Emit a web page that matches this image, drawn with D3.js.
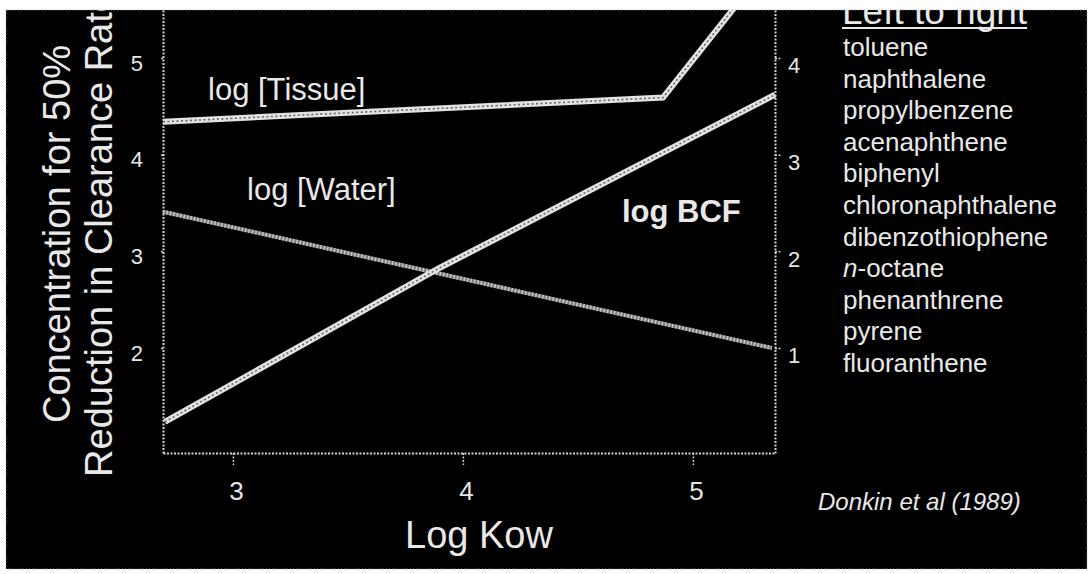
<!DOCTYPE html>
<html>
<head>
<meta charset="utf-8">
<script src="https://cdn.jsdelivr.net/npm/d3@7"></script>
<style>
  html, body { margin: 0; padding: 0; background: #fff; }
  svg { display: block; font-family: "Liberation Sans", Arial, Helvetica, sans-serif; }
  .tick text { fill: #e6e6e6; }
</style>
</head>
<body>
<svg id="chart" width="1089" height="574"></svg>
<script>
// Data (Donkin et al 1989)
const tissueKow  = [2.696, 4.87, 5.357];
const tissueConc = [4.34, 4.59, 6.05];
const waterKow   = [2.696, 5.343];
const waterConc  = [3.41, 2.0];
const bcfKow     = [2.704, 3.9, 5.357];
const bcfLog     = [0.235, 1.83, 3.62];

const xTicks      = [3, 4, 5];
const yLeftTicks  = [2, 3, 4, 5];
const yRightTicks = [1, 2, 3, 4];

const compounds = ["toluene", "naphthalene", "propylbenzene", "acenaphthene", "biphenyl",
  "chloronaphthalene", "dibenzothiophene", "n-octane", "phenanthrene", "pyrene", "fluoranthene"];

const W = 1089, H = 574;
const slide = { x0: 6, y0: 10, x1: 1087, y1: 569 };
const plot = { left: 163, right: 775, top: 10, bottom: 453 };
const TXT = "#e8e8e8";

const svg = d3.select("#chart");

svg.append("defs").append("clipPath").attr("id", "slideClip")
  .append("rect")
  .attr("x", slide.x0).attr("y", slide.y0)
  .attr("width", slide.x1 - slide.x0).attr("height", slide.y1 - slide.y0);

svg.append("rect")
  .attr("x", slide.x0).attr("y", slide.y0)
  .attr("width", slide.x1 - slide.x0).attr("height", slide.y1 - slide.y0)
  .attr("fill", "#000")
  .attr("stroke", "#9a9a9a").attr("stroke-width", 1)
  .attr("stroke-dasharray", "1,2");

const g = svg.append("g").attr("clip-path", "url(#slideClip)");

// Scales
const x = d3.scaleLinear().domain([2.696, 5.357]).range([plot.left, plot.right]);
const yL = d3.scaleLinear().domain([0.914, 5.496]).range([plot.bottom, plot.top]);
const yR = d3.scaleLinear().domain([-0.086, 4.496]).range([plot.bottom, plot.top]);

// Axes
function styleAxis(sel) {
  sel.select(".domain")
    .attr("stroke", "#d4d4d4").attr("stroke-width", 2)
    .attr("stroke-dasharray", "2,1.5");
  sel.selectAll(".tick line").attr("stroke", "#d4d4d4").attr("stroke-width", 1.5)
    .attr("stroke-dasharray", "2,1.5");
}

const xAxis = g.append("g")
  .attr("transform", `translate(0,${plot.bottom})`)
  .call(d3.axisBottom(x).tickValues(xTicks).tickFormat(d3.format("d"))
    .tickSize(12).tickSizeOuter(0).tickPadding(17));
xAxis.selectAll(".tick text").attr("font-size", 26).attr("dx", 3);
styleAxis(xAxis);

const yLeftAxis = g.append("g")
  .attr("transform", `translate(${plot.left},0)`)
  .call(d3.axisLeft(yL).tickValues(yLeftTicks).tickFormat(d3.format("d"))
    .tickSize(3).tickSizeOuter(0).tickPadding(17));
yLeftAxis.selectAll(".tick text").attr("font-size", 22).attr("dy", "0.55em");
styleAxis(yLeftAxis);

const yRightAxis = g.append("g")
  .attr("transform", `translate(${plot.right},0)`)
  .call(d3.axisRight(yR).tickValues(yRightTicks).tickFormat(d3.format("d"))
    .tickSize(6).tickSizeOuter(0).tickPadding(7));
yRightAxis.selectAll(".tick text").attr("font-size", 22).attr("dy", "0.68em");
styleAxis(yRightAxis);

// Lines
const lineL = d3.line().x(d => x(d[0])).y(d => yL(d[1]));
const lineR = d3.line().x(d => x(d[0])).y(d => yR(d[1]));

const tissue = d3.zip(tissueKow, tissueConc);
const water  = d3.zip(waterKow, waterConc);
const bcf    = d3.zip(bcfKow, bcfLog);

// water: thinner hatched grey
g.append("path").datum(water).attr("d", lineL)
  .attr("fill", "none").attr("stroke", "#7d7d7d").attr("stroke-width", 4);
g.append("path").datum(water).attr("d", lineL)
  .attr("fill", "none").attr("stroke", "#c8c8c8").attr("stroke-width", 4)
  .attr("stroke-dasharray", "1.5,2");

// tissue + BCF: thick beaded white
[[tissue, lineL], [bcf, lineR]].forEach(([data, gen]) => {
  g.append("path").datum(data).attr("d", gen)
    .attr("fill", "none").attr("stroke", "#e2e2e2").attr("stroke-width", 6)
    .attr("stroke-linejoin", "miter");
  g.append("path").datum(data).attr("d", gen)
    .attr("fill", "none").attr("stroke", "#6a6a6a").attr("stroke-width", 1.6)
    .attr("stroke-dasharray", "2,2.5");
});

// Line labels
g.append("text").attr("x", 208).attr("y", 100).attr("font-size", 31)
  .attr("fill", TXT).text("log [Tissue]");
g.append("text").attr("x", 247).attr("y", 200).attr("font-size", 31)
  .attr("fill", TXT).text("log [Water]");
g.append("text").attr("x", 622).attr("y", 222).attr("font-size", 31)
  .attr("font-weight", "bold").attr("fill", TXT).text("log BCF");

// Axis titles
g.append("text").attr("x", (plot.left + plot.right) / 2 + 10).attr("y", 548)
  .attr("text-anchor", "middle").attr("font-size", 38).attr("fill", TXT)
  .text("Log Kow");

g.append("text").attr("transform", "translate(70,234) rotate(-90)")
  .attr("text-anchor", "middle").attr("font-size", 38).attr("fill", TXT)
  .text("Concentration for 50%");
g.append("text").attr("transform", "translate(112,234) rotate(-90)")
  .attr("text-anchor", "middle").attr("font-size", 38).attr("fill", TXT)
  .text("Reduction in Clearance Rate");

// Compound list
const head = g.append("text").attr("x", 842).attr("y", 24).attr("font-size", 37)
  .attr("fill", TXT).text("Left to right");
const headLen = head.node().getComputedTextLength();
g.append("line").attr("x1", 842).attr("x2", 842 + headLen)
  .attr("y1", 28).attr("y2", 28).attr("stroke", TXT).attr("stroke-width", 2);

const items = g.append("g").selectAll("text").data(compounds).join("text")
  .attr("x", 843).attr("y", (d, i) => 56 + i * 31.6)
  .attr("font-size", 26).attr("fill", TXT);
items.each(function(d) {
  const t = d3.select(this);
  if (d.startsWith("n-")) {
    t.append("tspan").attr("font-style", "italic").text("n");
    t.append("tspan").text(d.slice(1));
  } else {
    t.text(d);
  }
});

g.append("text").attr("x", 818).attr("y", 510).attr("font-size", 24)
  .attr("font-style", "italic").attr("fill", TXT).text("Donkin et al (1989)");
</script>
</body>
</html>
